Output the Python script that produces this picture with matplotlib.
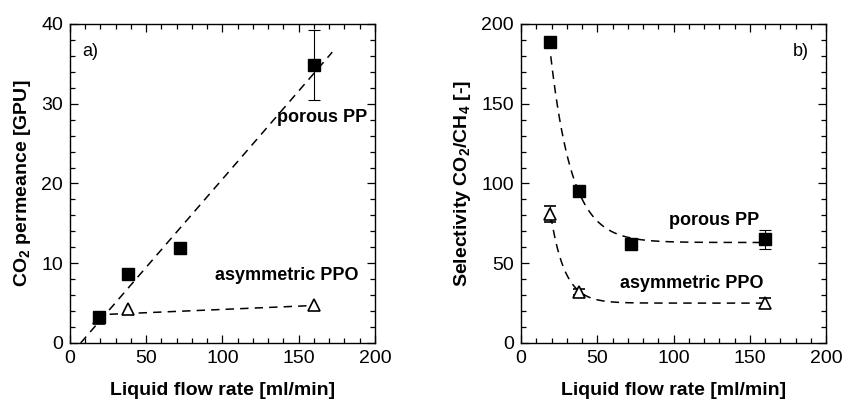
import numpy as np
import matplotlib
matplotlib.use('Agg')
import matplotlib.pyplot as plt

plt.rcParams['font.family'] = ['Liberation Sans', 'DejaVu Sans']
plt.rcParams['mathtext.default'] = 'regular'

# flow rates [ml/min]
flow = [19, 38, 72, 160]
flow_ppo = [19, 38, 160]

# a) CO2 permeance [GPU]
perm_pp = [3.2, 8.7, 11.9, 34.9]
perm_pp_err = [0, 0, 0, 4.4]
perm_ppo = [3.1, 4.3, 4.7]

# b) selectivity CO2/CH4
sel_pp = [189, 95, 62, 65]
sel_pp_err = [3, 2, 0, 6]
sel_ppo = [81, 32, 25]
sel_ppo_err = [5, 2, 3]

# trend lines
lin_pp = (0.221, -1.55)      # slope, intercept
lin_ppo_x = [26, 160]
lin_ppo_y = [3.6, 4.7]
exp_pp = (63, 121, 14.1, 19)  # plateau, amplitude, tau, x0
exp_ppo = (25, 52, 9.3, 20)

fig = plt.figure(figsize=(8.42, 3.99), dpi=100)
ax1 = fig.add_axes([0.0831, 0.1404, 0.3622, 0.7995])
ax2 = fig.add_axes([0.6188, 0.1404, 0.3622, 0.7995])

sq = dict(marker='s', color='black', ms=9, ls='none', capsize=4, elinewidth=0.8, capthick=0.8)
tri = dict(marker='^', mfc='white', mec='black', mew=1.2, ecolor='black', ms=9, ls='none',
           capsize=4, elinewidth=0.8, capthick=0.8)

# panel a
xl = np.array([7, 172])
ax1.plot(xl, lin_pp[0] * xl + lin_pp[1], 'k--', lw=1.1, dashes=(5.5, 4))
ax1.plot(lin_ppo_x, lin_ppo_y, 'k--', lw=1.1, dashes=(5.5, 4))
ax1.errorbar(flow_ppo, perm_ppo, **tri)
ax1.errorbar(flow, perm_pp, yerr=perm_pp_err, **sq)
ax1.set_xlim(0, 200)
ax1.set_ylim(0, 40)
ax1.set_yticks([0, 10, 20, 30, 40])
ax1.set_ylabel('CO$_2$ permeance [GPU]', fontweight='bold', fontsize=14, labelpad=6)
ax1.text(0.04, 0.94, 'a)', transform=ax1.transAxes, fontsize=13, va='top')
ax1.text(136, 28.3, 'porous PP', fontweight='bold', fontsize=13, va='center')
ax1.text(95, 8.5, 'asymmetric PPO', fontweight='bold', fontsize=13, va='center')

# panel b
xc = np.linspace(19.5, 160, 200)
ax2.plot(xc, exp_pp[0] + exp_pp[1] * np.exp(-(xc - exp_pp[3]) / exp_pp[2]), 'k--', lw=1.1, dashes=(5.5, 4))
ax2.plot(xc, exp_ppo[0] + exp_ppo[1] * np.exp(-(xc - exp_ppo[3]) / exp_ppo[2]), 'k--', lw=1.1, dashes=(5.5, 4))
ax2.errorbar(flow_ppo, sel_ppo, yerr=sel_ppo_err, **tri)
ax2.errorbar(flow, sel_pp, yerr=sel_pp_err, **sq)
ax2.set_xlim(0, 200)
ax2.set_ylim(0, 200)
ax2.set_yticks([0, 50, 100, 150, 200])
ax2.set_ylabel('Selectivity CO$_2$/CH$_4$ [-]', fontweight='bold', fontsize=14, labelpad=6)
ax2.text(0.89, 0.94, 'b)', transform=ax2.transAxes, fontsize=13, va='top')
ax2.text(97, 77, 'porous PP', fontweight='bold', fontsize=13, va='center')
ax2.text(65, 37.6, 'asymmetric PPO', fontweight='bold', fontsize=13, va='center')

for ax in (ax1, ax2):
    ax.set_xticks([0, 50, 100, 150, 200])
    ax.minorticks_on()
    ax.tick_params(which='both', direction='in', top=True, right=True, labelsize=14, width=0.9)
    ax.tick_params(which='major', length=6, pad=5)
    ax.tick_params(which='minor', length=3.5)
    ax.set_xlabel('Liquid flow rate [ml/min]', fontweight='bold', fontsize=14, labelpad=11)
    for s in ax.spines.values():
        s.set_linewidth(1.0)

fig.savefig('out.png', dpi=100)
